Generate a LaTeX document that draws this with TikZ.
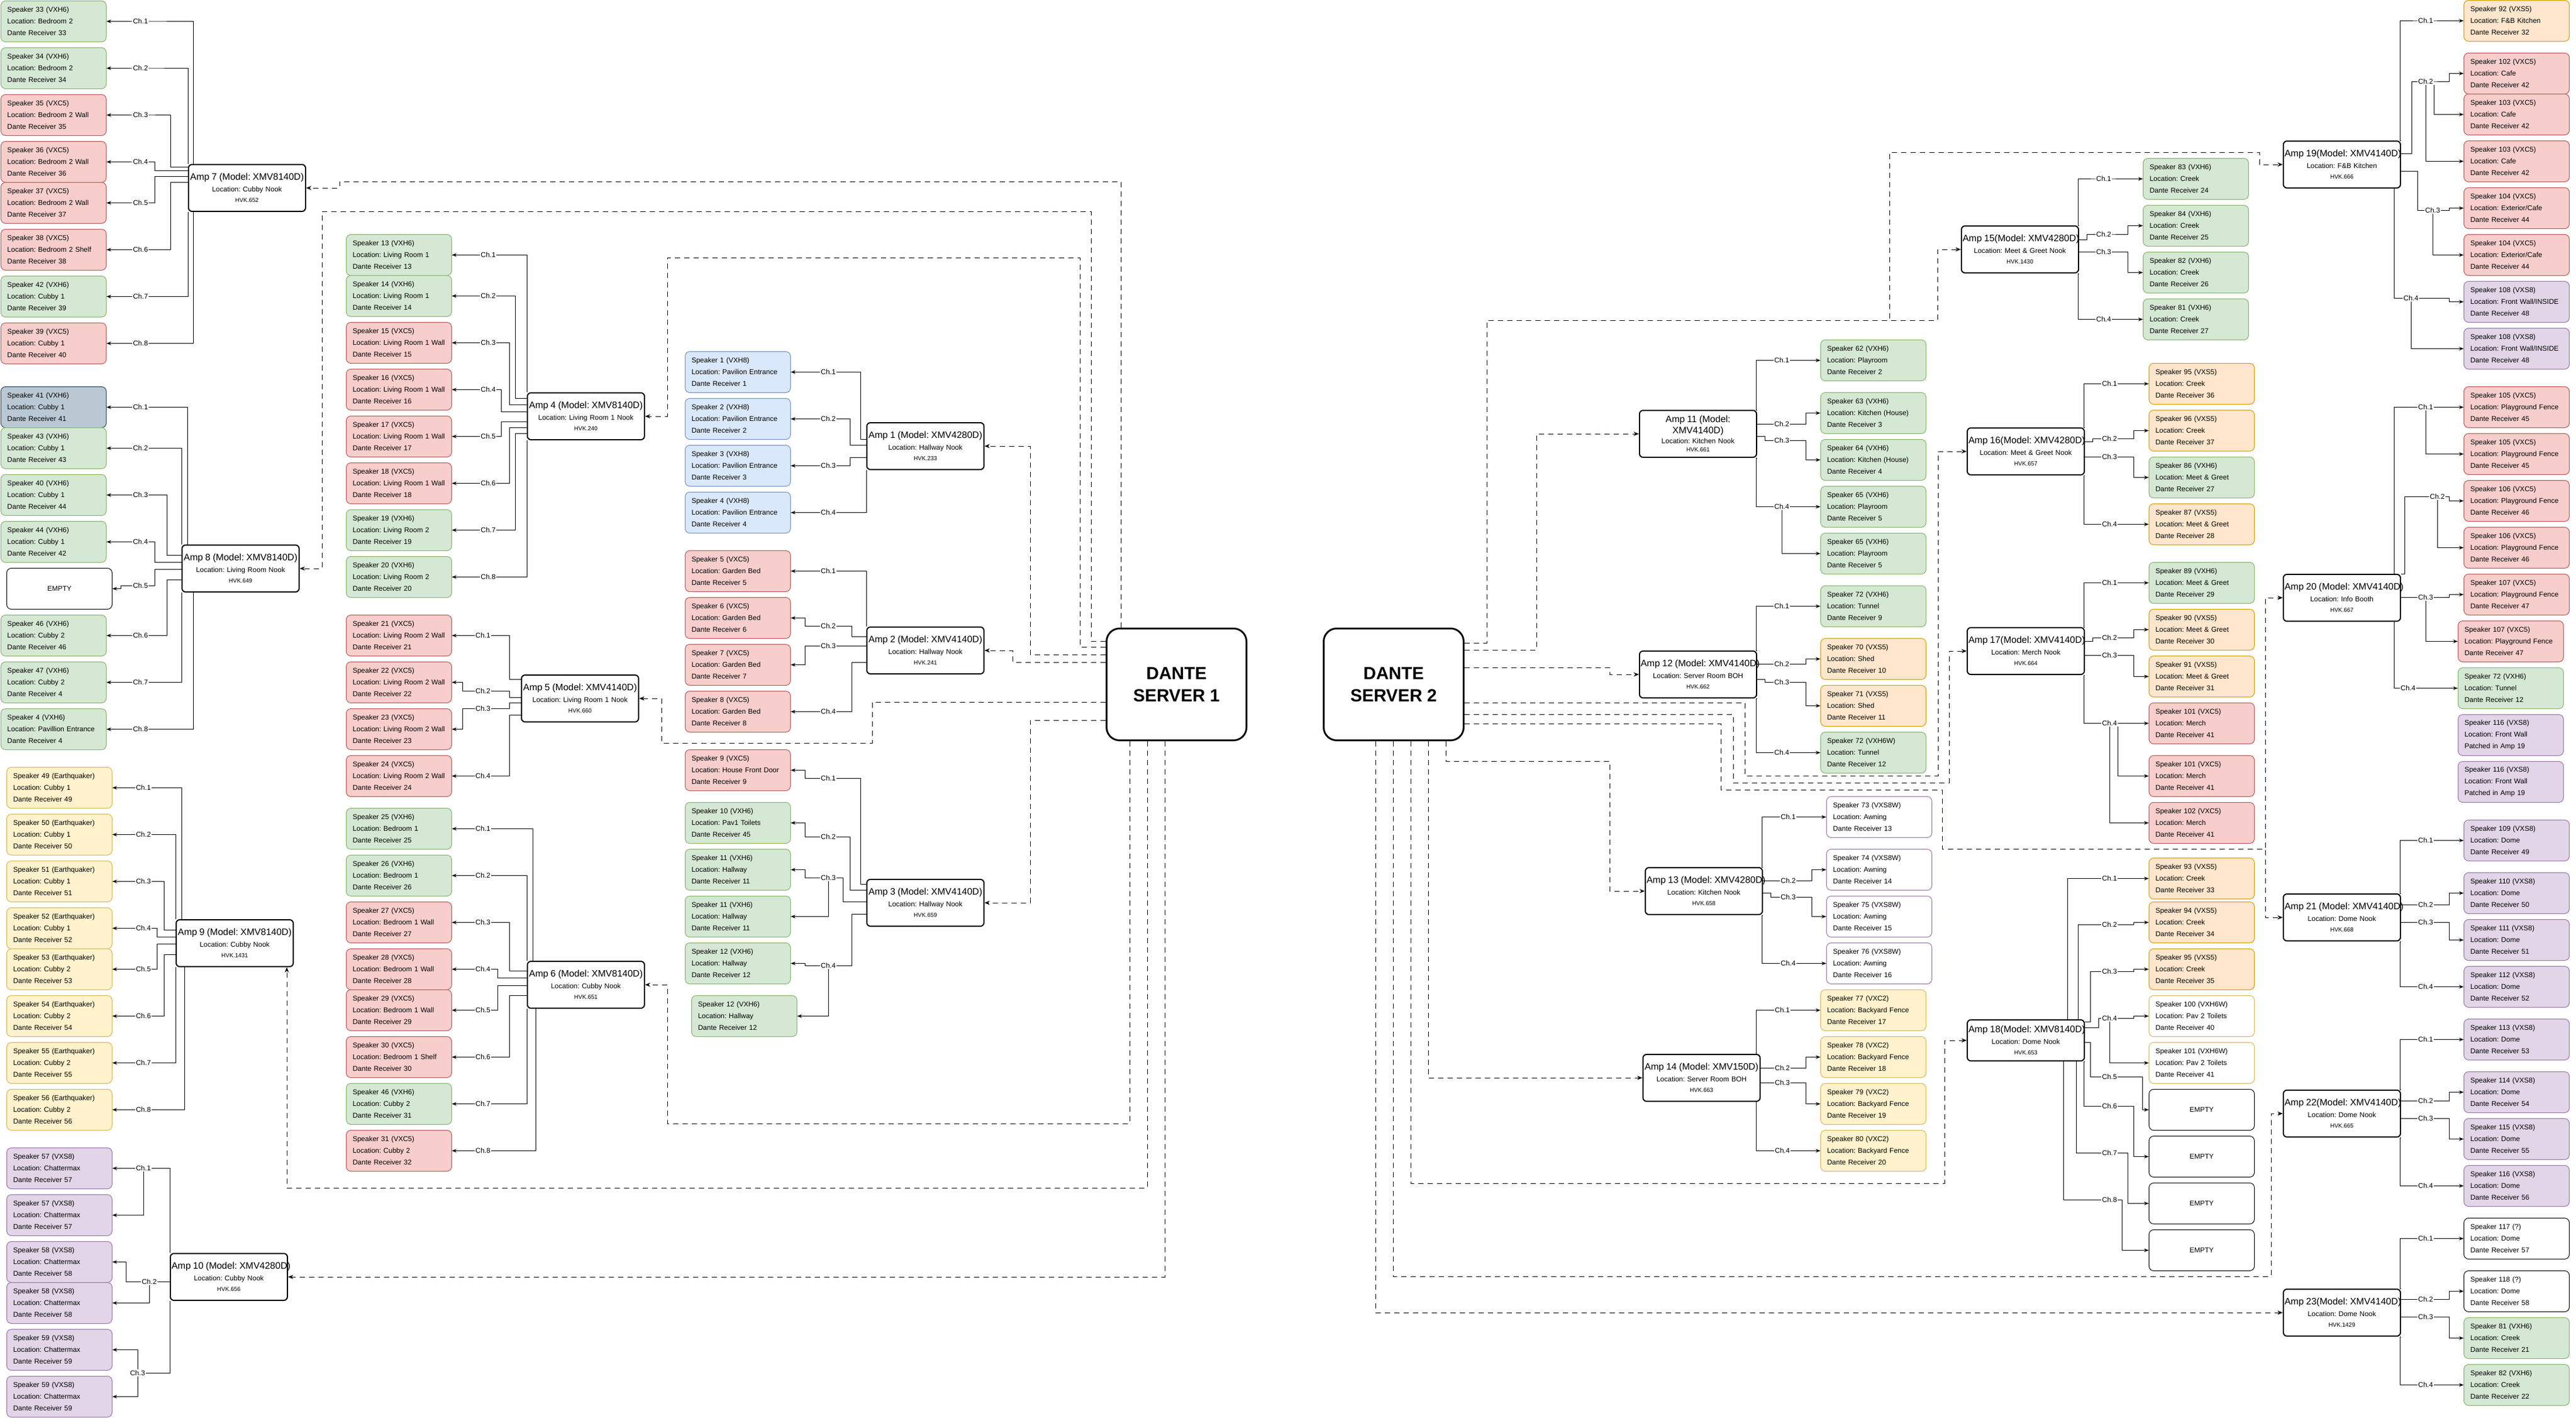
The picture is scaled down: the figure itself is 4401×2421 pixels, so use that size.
\documentclass[tikz,border=0pt]{standalone}
\usepackage{fontspec}
\setmainfont{Liberation Sans}
\frenchspacing
\usetikzlibrary{arrows.meta}
\definecolor{gF}{HTML}{D5E8D4}\definecolor{gD}{HTML}{82B366}
\definecolor{rF}{HTML}{F8CECC}\definecolor{rD}{HTML}{B85450}
\definecolor{bF}{HTML}{DAE8FC}\definecolor{bD}{HTML}{6C8EBF}
\definecolor{yF}{HTML}{FFF2CC}\definecolor{yD}{HTML}{D6B656}
\definecolor{oF}{HTML}{FFE6CC}\definecolor{oD}{HTML}{D79B00}
\definecolor{pF}{HTML}{E1D5E7}\definecolor{pD}{HTML}{9673A6}
\definecolor{sF}{HTML}{BAC8D3}\definecolor{sD}{HTML}{23445D}
\tikzset{
 spkbox/.style={draw, anchor=north west, rounded corners=8pt, line width=1pt, minimum width=180pt, minimum height=70pt, text width=158pt, inner xsep=11pt, inner ysep=2pt, align=left, font=\fontsize{12pt}{20pt}\selectfont},
 cG/.style={fill=gF, draw=gD}, cR/.style={fill=rF, draw=rD}, cB/.style={fill=bF, draw=bD},
 cY/.style={fill=yF, draw=yD}, cO/.style={fill=oF, draw=oD}, cP/.style={fill=pF, draw=pD},
 cS/.style={fill=sF, draw=sD}, cW/.style={fill=white, draw=black},
 cWP/.style={fill=white, draw=pD}, cWY/.style={fill=white, draw=yD},
 ampbox/.style={draw, anchor=north west, rounded corners=6pt, line width=2pt, fill=white, minimum width=200pt, text width=196pt, inner xsep=2pt, inner ysep=2pt, align=center, font=\fontsize{12pt}{20pt}\selectfont},
 srvbox/.style={draw, anchor=north west, rounded corners=22pt, line width=3pt, fill=white, minimum width=239pt, minimum height=191pt, align=center, font=\bfseries\fontsize{30pt}{38pt}\selectfont},
 wire/.style={line width=1pt, -{Stealth[length=8pt,width=6pt]}},
 dline/.style={line width=1pt, dash pattern=on 9pt off 7pt, -{Stealth[length=9pt,width=7pt]}},
 lbl/.style={fill=white, inner sep=1.5pt, font=\fontsize{12pt}{14pt}\selectfont},
}
\newcommand\spk[7]{\node[spkbox,#2] (#1) at (#3,#4) {\mbox{#5}\\\mbox{#6}\\\mbox{#7}};}
\newcommand\emp[3]{\node[spkbox,cW,align=center] (#1) at (#2,#3) {EMPTY};}
\newcommand\amp[7][80]{\node[ampbox,minimum height=#1pt] (#2) at (#3,#4) {{\fontsize{16pt}{20pt}\selectfont\mbox{#5}\par}\mbox{#6}\par{\fontsize{10pt}{18pt}\selectfont #7\par}};}
\newcommand\wire[8]{\draw[wire] #1 -| (#2,#3) -- (#4,#3) node[lbl] (#8) {#7} -- (#5,#3) |- (#6);}
\begin{document}
\begin{tikzpicture}[x=1pt,y=-1pt]
\fill[white] (0,0) rectangle (4401,2421);
\useasboundingbox (0,0) rectangle (4401,2421);
% servers
\node[srvbox] (D1) at (1889,1072) {DANTE\\SERVER 1};
\node[srvbox] (D2) at (2260,1072) {DANTE\\SERVER 2};
% amps
\amp{A7}{321}{280}{Amp 7 (Model: XMV8140D)}{Location: Cubby Nook}{HVK.652}
\amp{A8}{310}{930}{Amp 8 (Model: XMV8140D)}{Location: Living Room Nook}{HVK.649}
\amp{A9}{300}{1570}{Amp 9 (Model: XMV8140D)}{Location: Cubby Nook}{HVK.1431}
\amp{A10}{290}{2140}{Amp 10 (Model: XMV4280D)}{Location: Cubby Nook}{HVK.656}
\amp{A4}{900}{670}{Amp 4 (Model: XMV8140D)}{Location: Living Room 1 Nook}{HVK.240}
\amp{A5}{890}{1152}{Amp 5 (Model: XMV4140D)}{Location: Living Room 1 Nook}{HVK.660}
\amp{A6}{900}{1641}{Amp 6 (Model: XMV8140D)}{Location: Cubby Nook}{HVK.651}
\amp{A1}{1480}{721}{Amp 1 (Model: XMV4280D)}{Location: Hallway Nook}{HVK.233}
\amp{A2}{1480}{1070}{Amp 2 (Model: XMV4140D)}{Location: Hallway Nook}{HVK.241}
\amp{A3}{1480}{1501}{Amp 3 (Model: XMV4140D)}{Location: Hallway Nook}{HVK.659}
\node[ampbox,minimum height=80pt] (A11) at (2800,700) {{\fontsize{16pt}{19pt}\selectfont Amp 11 (Model:\\XMV4140D)\par}{\fontsize{12pt}{17pt}\selectfont Location: Kitchen Nook\par}{\fontsize{10pt}{14pt}\selectfont HVK.661\par}};
\amp{A12}{2800}{1111}{Amp 12 (Model: XMV4140D)}{Location: Server Room BOH}{HVK.662}
\amp{A13}{2810}{1481}{Amp 13 (Model: XMV4280D)}{Location: Kitchen Nook}{HVK.658}
\amp{A14}{2806}{1800}{Amp 14 (Model: XMV150D)}{Location: Server Room BOH}{HVK.663}
\amp{A15}{3350}{385}{Amp 15(Model: XMV4280D)}{Location: Meet \& Greet Nook}{HVK.1430}
\amp{A16}{3360}{730}{Amp 16(Model: XMV4280D)}{Location: Meet \& Greet Nook}{HVK.657}
\amp{A17}{3360}{1071}{Amp 17(Model: XMV4140D)}{Location: Merch Nook}{HVK.664}
\amp[70]{A18}{3360}{1741}{Amp 18(Model: XMV8140D)}{Location: Dome Nook}{HVK.653}
\amp{A19}{3900}{240}{Amp 19(Model: XMV4140D)}{Location: F\&B Kitchen}{HVK.666}
\amp{A20}{3900}{980}{Amp 20 (Model: XMV4140D)}{Location: Info Booth}{HVK.667}
\amp{A21}{3900}{1526}{Amp 21 (Model: XMV4140D)}{Location: Dome Nook}{HVK.668}
\amp{A22}{3900}{1861}{Amp 22(Model: XMV4140D)}{Location: Dome Nook}{HVK.665}
\amp{A23}{3900}{2201}{Amp 23(Model: XMV4140D)}{Location: Dome Nook}{HVK.1429}
% ---------- speakers, left column
\spk{S33}{cG}{1}{1}{Speaker 33 (VXH6)}{Location: Bedroom 2}{Dante Receiver 33}
\spk{S34}{cG}{1}{81}{Speaker 34 (VXH6)}{Location: Bedroom 2}{Dante Receiver 34}
\spk{S35}{cR}{1}{161}{Speaker 35 (VXC5)}{Location: Bedroom 2 Wall}{Dante Receiver 35}
\spk{S36}{cR}{1}{241}{Speaker 36 (VXC5)}{Location: Bedroom 2 Wall}{Dante Receiver 36}
\spk{S37}{cR}{1}{311}{Speaker 37 (VXC5)}{Location: Bedroom 2 Wall}{Dante Receiver 37}
\spk{S38}{cR}{1}{391}{Speaker 38 (VXC5)}{Location: Bedroom 2 Shelf}{Dante Receiver 38}
\spk{S42}{cG}{1}{471}{Speaker 42 (VXH6)}{Location: Cubby 1}{Dante Receiver 39}
\spk{S39}{cR}{1}{551}{Speaker 39 (VXC5)}{Location: Cubby 1}{Dante Receiver 40}
\spk{S41}{cS}{1}{660}{Speaker 41 (VXH6)}{Location: Cubby 1}{Dante Receiver 41}
\spk{S43}{cG}{1}{730}{Speaker 43 (VXH6)}{Location: Cubby 1}{Dante Receiver 43}
\spk{S40}{cG}{1}{810}{Speaker 40 (VXH6)}{Location: Cubby 1}{Dante Receiver 44}
\spk{S44}{cG}{1}{890}{Speaker 44 (VXH6)}{Location: Cubby 1}{Dante Receiver 42}
\emp{E8}{11}{970}
\spk{S46}{cG}{1}{1050}{Speaker 46 (VXH6)}{Location: Cubby 2}{Dante Receiver 46}
\spk{S47}{cG}{1}{1130}{Speaker 47 (VXH6)}{Location: Cubby 2}{Dante Receiver 4}
\spk{S4x}{cG}{1}{1210}{Speaker 4 (VXH6)}{Location: Pavillion Entrance}{Dante Receiver 4}
\spk{S49}{cY}{11}{1310}{Speaker 49 (Earthquaker)}{Location: Cubby 1}{Dante Receiver 49}
\spk{S50}{cY}{11}{1390}{Speaker 50 (Earthquaker)}{Location: Cubby 1}{Dante Receiver 50}
\spk{S51}{cY}{11}{1470}{Speaker 51 (Earthquaker)}{Location: Cubby 1}{Dante Receiver 51}
\spk{S52}{cY}{11}{1550}{Speaker 52 (Earthquaker)}{Location: Cubby 1}{Dante Receiver 52}
\spk{S53}{cY}{11}{1620}{Speaker 53 (Earthquaker)}{Location: Cubby 2}{Dante Receiver 53}
\spk{S54}{cY}{11}{1700}{Speaker 54 (Earthquaker)}{Location: Cubby 2}{Dante Receiver 54}
\spk{S55}{cY}{11}{1780}{Speaker 55 (Earthquaker)}{Location: Cubby 2}{Dante Receiver 55}
\spk{S56}{cY}{11}{1860}{Speaker 56 (Earthquaker)}{Location: Cubby 2}{Dante Receiver 56}
\spk{S57a}{cP}{11}{1960}{Speaker 57 (VXS8)}{Location: Chattermax}{Dante Receiver 57}
\spk{S57b}{cP}{11}{2040}{Speaker 57 (VXS8)}{Location: Chattermax}{Dante Receiver 57}
\spk{S58a}{cP}{11}{2120}{Speaker 58 (VXS8)}{Location: Chattermax}{Dante Receiver 58}
\spk{S58b}{cP}{11}{2190}{Speaker 58 (VXS8)}{Location: Chattermax}{Dante Receiver 58}
\spk{S59a}{cP}{11}{2270}{Speaker 59 (VXS8)}{Location: Chattermax}{Dante Receiver 59}
\spk{S59b}{cP}{11}{2350}{Speaker 59 (VXS8)}{Location: Chattermax}{Dante Receiver 59}
% ---------- second column
\spk{S13}{cG}{591}{400}{Speaker 13 (VXH6)}{Location: Living Room 1}{Dante Receiver 13}
\spk{S14}{cG}{591}{470}{Speaker 14 (VXH6)}{Location: Living Room 1}{Dante Receiver 14}
\spk{S15}{cR}{591}{550}{Speaker 15 (VXC5)}{Location: Living Room 1 Wall}{Dante Receiver 15}
\spk{S16}{cR}{591}{630}{Speaker 16 (VXC5)}{Location: Living Room 1 Wall}{Dante Receiver 16}
\spk{S17}{cR}{591}{710}{Speaker 17 (VXC5)}{Location: Living Room 1 Wall}{Dante Receiver 17}
\spk{S18}{cR}{591}{790}{Speaker 18 (VXC5)}{Location: Living Room 1 Wall}{Dante Receiver 18}
\spk{S19}{cG}{591}{870}{Speaker 19 (VXH6)}{Location: Living Room 2}{Dante Receiver 19}
\spk{S20}{cG}{591}{950}{Speaker 20 (VXH6)}{Location: Living Room 2}{Dante Receiver 20}
\spk{S21}{cR}{591}{1050}{Speaker 21 (VXC5)}{Location: Living Room 2 Wall}{Dante Receiver 21}
\spk{S22}{cR}{591}{1130}{Speaker 22 (VXC5)}{Location: Living Room 2 Wall}{Dante Receiver 22}
\spk{S23}{cR}{591}{1210}{Speaker 23 (VXC5)}{Location: Living Room 2 Wall}{Dante Receiver 23}
\spk{S24}{cR}{591}{1290}{Speaker 24 (VXC5)}{Location: Living Room 2 Wall}{Dante Receiver 24}
\spk{S25}{cG}{591}{1380}{Speaker 25 (VXH6)}{Location: Bedroom 1}{Dante Receiver 25}
\spk{S26}{cG}{591}{1460}{Speaker 26 (VXH6)}{Location: Bedroom 1}{Dante Receiver 26}
\spk{S27}{cR}{591}{1540}{Speaker 27 (VXC5)}{Location: Bedroom 1 Wall}{Dante Receiver 27}
\spk{S28}{cR}{591}{1620}{Speaker 28 (VXC5)}{Location: Bedroom 1 Wall}{Dante Receiver 28}
\spk{S29}{cR}{591}{1690}{Speaker 29 (VXC5)}{Location: Bedroom 1 Wall}{Dante Receiver 29}
\spk{S30}{cR}{591}{1770}{Speaker 30 (VXC5)}{Location: Bedroom 1 Shelf}{Dante Receiver 30}
\spk{S46b}{cG}{591}{1850}{Speaker 46 (VXH6)}{Location: Cubby 2}{Dante Receiver 31}
\spk{S31}{cR}{591}{1930}{Speaker 31 (VXC5)}{Location: Cubby 2}{Dante Receiver 32}
% ---------- third column
\spk{S1}{cB}{1170}{600}{Speaker 1 (VXH8)}{Location: Pavilion Entrance}{Dante Receiver 1}
\spk{S2}{cB}{1170}{680}{Speaker 2 (VXH8)}{Location: Pavilion Entrance}{Dante Receiver 2}
\spk{S3}{cB}{1170}{760}{Speaker 3 (VXH8)}{Location: Pavilion Entrance}{Dante Receiver 3}
\spk{S4b}{cB}{1170}{840}{Speaker 4 (VXH8)}{Location: Pavilion Entrance}{Dante Receiver 4}
\spk{S5}{cR}{1170}{940}{Speaker 5 (VXC5)}{Location: Garden Bed}{Dante Receiver 5}
\spk{S6}{cR}{1170}{1020}{Speaker 6 (VXC5)}{Location: Garden Bed}{Dante Receiver 6}
\spk{S7}{cR}{1170}{1100}{Speaker 7 (VXC5)}{Location: Garden Bed}{Dante Receiver 7}
\spk{S8}{cR}{1170}{1180}{Speaker 8 (VXC5)}{Location: Garden Bed}{Dante Receiver 8}
\spk{S9}{cR}{1170}{1280}{Speaker 9 (VXC5)}{Location: House Front Door}{Dante Receiver 9}
\spk{S10}{cG}{1170}{1370}{Speaker 10 (VXH6)}{Location: Pav1 Toilets}{Dante Receiver 45}
\spk{S11a}{cG}{1170}{1450}{Speaker 11 (VXH6)}{Location: Hallway}{Dante Receiver 11}
\spk{S11b}{cG}{1170}{1530}{Speaker 11 (VXH6)}{Location: Hallway}{Dante Receiver 11}
\spk{S12a}{cG}{1170}{1610}{Speaker 12 (VXH6)}{Location: Hallway}{Dante Receiver 12}
\spk{S12b}{cG}{1181}{1700}{Speaker 12 (VXH6)}{Location: Hallway}{Dante Receiver 12}
% ---------- right, column A
\spk{S62}{cG}{3110}{580}{Speaker 62 (VXH6)}{Location: Playroom}{Dante Receiver 2}
\spk{S63}{cG}{3110}{670}{Speaker 63 (VXH6)}{Location: Kitchen (House)}{Dante Receiver 3}
\spk{S64}{cG}{3110}{750}{Speaker 64 (VXH6)}{Location: Kitchen (House)}{Dante Receiver 4}
\spk{S65a}{cG}{3110}{830}{Speaker 65 (VXH6)}{Location: Playroom}{Dante Receiver 5}
\spk{S65b}{cG}{3110}{910}{Speaker 65 (VXH6)}{Location: Playroom}{Dante Receiver 5}
\spk{S72a}{cG}{3110}{1000}{Speaker 72 (VXH6)}{Location: Tunnel}{Dante Receiver 9}
\spk{S70}{cO}{3110}{1090}{Speaker 70 (VXS5)}{Location: Shed}{Dante Receiver 10}
\spk{S71}{cO}{3110}{1170}{Speaker 71 (VXS5)}{Location: Shed}{Dante Receiver 11}
\spk{S72b}{cG}{3110}{1250}{Speaker 72 (VXH6W)}{Location: Tunnel}{Dante Receiver 12}
\spk{S73}{cWP}{3120}{1360}{Speaker 73 (VXS8W)}{Location: Awning}{Dante Receiver 13}
\spk{S74}{cWP}{3120}{1450}{Speaker 74 (VXS8W)}{Location: Awning}{Dante Receiver 14}
\spk{S75}{cWP}{3120}{1530}{Speaker 75 (VXS8W)}{Location: Awning}{Dante Receiver 15}
\spk{S76}{cWP}{3120}{1610}{Speaker 76 (VXS8W)}{Location: Awning}{Dante Receiver 16}
\spk{S77}{cY}{3110}{1690}{Speaker 77 (VXC2)}{Location: Backyard Fence}{Dante Receiver 17}
\spk{S78}{cY}{3110}{1770}{Speaker 78 (VXC2)}{Location: Backyard Fence}{Dante Receiver 18}
\spk{S79}{cY}{3110}{1850}{Speaker 79 (VXC2)}{Location: Backyard Fence}{Dante Receiver 19}
\spk{S80}{cY}{3110}{1930}{Speaker 80 (VXC2)}{Location: Backyard Fence}{Dante Receiver 20}
% ---------- right, column B
\spk{S83}{cG}{3661}{270}{Speaker 83 (VXH6)}{Location: Creek}{Dante Receiver 24}
\spk{S84}{cG}{3661}{350}{Speaker 84 (VXH6)}{Location: Creek}{Dante Receiver 25}
\spk{S82}{cG}{3661}{430}{Speaker 82 (VXH6)}{Location: Creek}{Dante Receiver 26}
\spk{S81}{cG}{3661}{510}{Speaker 81 (VXH6)}{Location: Creek}{Dante Receiver 27}
\spk{S95a}{cO}{3671}{620}{Speaker 95 (VXS5)}{Location: Creek}{Dante Receiver 36}
\spk{S96}{cO}{3671}{700}{Speaker 96 (VXS5)}{Location: Creek}{Dante Receiver 37}
\spk{S86}{cG}{3671}{780}{Speaker 86 (VXH6)}{Location: Meet \& Greet}{Dante Receiver 27}
\spk{S87}{cO}{3671}{860}{Speaker 87 (VXS5)}{Location: Meet \& Greet}{Dante Receiver 28}
\spk{S89}{cG}{3671}{960}{Speaker 89 (VXH6)}{Location: Meet \& Greet}{Dante Receiver 29}
\spk{S90}{cO}{3671}{1040}{Speaker 90 (VXS5)}{Location: Meet \& Greet}{Dante Receiver 30}
\spk{S91}{cO}{3671}{1120}{Speaker 91 (VXS5)}{Location: Meet \& Greet}{Dante Receiver 31}
\spk{S101a}{cR}{3671}{1200}{Speaker 101 (VXC5)}{Location: Merch}{Dante Receiver 41}
\spk{S101b}{cR}{3671}{1290}{Speaker 101 (VXC5)}{Location: Merch}{Dante Receiver 41}
\spk{S102a}{cR}{3671}{1370}{Speaker 102 (VXC5)}{Location: Merch}{Dante Receiver 41}
\spk{S93}{cO}{3671}{1465}{Speaker 93 (VXS5)}{Location: Creek}{Dante Receiver 33}
\spk{S94}{cO}{3671}{1540}{Speaker 94 (VXS5)}{Location: Creek}{Dante Receiver 34}
\spk{S95b}{cO}{3671}{1620}{Speaker 95 (VXS5)}{Location: Creek}{Dante Receiver 35}
\spk{S100}{cWY}{3671}{1700}{Speaker 100 (VXH6W)}{Location: Pav 2 Toilets}{Dante Receiver 40}
\spk{S101c}{cWY}{3671}{1780}{Speaker 101 (VXH6W)}{Location: Pav 2 Toilets}{Dante Receiver 41}
\emp{E18a}{3671}{1860}
\emp{E18b}{3671}{1940}
\emp{E18c}{3671}{2020}
\emp{E18d}{3671}{2100}
% ---------- right, column C
\spk{S92}{cO}{4209}{0}{Speaker 92 (VXS5)}{Location: F\&B Kitchen}{Dante Receiver 32}
\spk{S102b}{cR}{4209}{90}{Speaker 102 (VXC5)}{Location: Cafe}{Dante Receiver 42}
\spk{S103a}{cR}{4209}{160}{Speaker 103 (VXC5)}{Location: Cafe}{Dante Receiver 42}
\spk{S103b}{cR}{4209}{240}{Speaker 103 (VXC5)}{Location: Cafe}{Dante Receiver 42}
\spk{S104a}{cR}{4209}{320}{Speaker 104 (VXC5)}{Location: Exterior/Cafe}{Dante Receiver 44}
\spk{S104b}{cR}{4209}{400}{Speaker 104 (VXC5)}{Location: Exterior/Cafe}{Dante Receiver 44}
\spk{S108a}{cP}{4209}{480}{Speaker 108 (VXS8)}{Location: Front Wall/INSIDE}{Dante Receiver 48}
\spk{S108b}{cP}{4209}{560}{Speaker 108 (VXS8)}{Location: Front Wall/INSIDE}{Dante Receiver 48}
\spk{S105a}{cR}{4209}{660}{Speaker 105 (VXC5)}{Location: Playground Fence}{Dante Receiver 45}
\spk{S105b}{cR}{4209}{740}{Speaker 105 (VXC5)}{Location: Playground Fence}{Dante Receiver 45}
\spk{S106a}{cR}{4209}{820}{Speaker 106 (VXC5)}{Location: Playground Fence}{Dante Receiver 46}
\spk{S106b}{cR}{4209}{900}{Speaker 106 (VXC5)}{Location: Playground Fence}{Dante Receiver 46}
\spk{S107a}{cR}{4209}{980}{Speaker 107 (VXC5)}{Location: Playground Fence}{Dante Receiver 47}
\spk{S107b}{cR}{4199}{1060}{Speaker 107 (VXC5)}{Location: Playground Fence}{Dante Receiver 47}
\spk{S72c}{cG}{4199}{1140}{Speaker 72 (VXH6)}{Location: Tunnel}{Dante Receiver 12}
\spk{S116a}{cP}{4199}{1220}{Speaker 116 (VXS8)}{Location: Front Wall}{Patched in Amp 19}
\spk{S116b}{cP}{4199}{1300}{Speaker 116 (VXS8)}{Location: Front Wall}{Patched in Amp 19}
\spk{S109}{cP}{4209}{1400}{Speaker 109 (VXS8)}{Location: Dome}{Dante Receiver 49}
\spk{S110}{cP}{4209}{1490}{Speaker 110 (VXS8)}{Location: Dome}{Dante Receiver 50}
\spk{S111}{cP}{4209}{1570}{Speaker 111 (VXS8)}{Location: Dome}{Dante Receiver 51}
\spk{S112}{cP}{4209}{1650}{Speaker 112 (VXS8)}{Location: Dome}{Dante Receiver 52}
\spk{S113}{cP}{4209}{1740}{Speaker 113 (VXS8)}{Location: Dome}{Dante Receiver 53}
\spk{S114}{cP}{4209}{1830}{Speaker 114 (VXS8)}{Location: Dome}{Dante Receiver 54}
\spk{S115}{cP}{4209}{1910}{Speaker 115 (VXS8)}{Location: Dome}{Dante Receiver 55}
\spk{S116c}{cP}{4209}{1990}{Speaker 116 (VXS8)}{Location: Dome}{Dante Receiver 56}
\spk{S117}{cW}{4209}{2080}{Speaker 117 (?)}{Location: Dome}{Dante Receiver 57}
\spk{S118}{cW}{4209}{2170}{Speaker 118 (?)}{Location: Dome}{Dante Receiver 58}
\spk{S81b}{cG}{4209}{2250}{Speaker 81 (VXH6)}{Location: Creek}{Dante Receiver 21}
\spk{S82b}{cG}{4209}{2330}{Speaker 82 (VXH6)}{Location: Creek}{Dante Receiver 22}
% ================= channel wires
% Amp 7
\wire{(A7.north -| 330,0)}{330}{36}{240}{206}{S33.east}{Ch.1}{L7a}
\wire{(A7.north west)}{321}{116}{240}{206}{S34.east}{Ch.2}{L7b}
\wire{(A7.west |- 0,285)}{291}{196}{240}{206}{S35.east}{Ch.3}{L7c}
\wire{(A7.west |- 0,291)}{264}{276}{240}{206}{S36.east}{Ch.4}{L7d}
\wire{(A7.west |- 0,301)}{264}{346}{240}{206}{S37.east}{Ch.5}{L7e}
\wire{(A7.west |- 0,311)}{291}{426}{240}{206}{S38.east}{Ch.6}{L7f}
\wire{(A7.south west)}{321}{506}{240}{206}{S42.east}{Ch.7}{L7g}
\wire{(A7.south -| 330,0)}{330}{586}{240}{206}{S39.east}{Ch.8}{L7h}
% Amp 8
\wire{(A8.north -| 320,0)}{320}{695}{240}{206}{S41.east}{Ch.1}{L8a}
\wire{(A8.north west)}{310}{765}{240}{206}{S43.east}{Ch.2}{L8b}
\wire{(A8.west |- 0,948)}{285}{845}{240}{206}{S40.east}{Ch.3}{L8c}
\wire{(A8.west |- 0,960)}{264}{925}{240}{206}{S44.east}{Ch.4}{L8d}
\wire{(A8.west |- 0,972)}{264}{1000}{240}{206}{E8.east}{Ch.5}{L8e}
\wire{(A8.west |- 0,990)}{285}{1085}{240}{206}{S46.east}{Ch.6}{L8f}
\wire{(A8.south west)}{310}{1165}{240}{206}{S47.east}{Ch.7}{L8g}
\wire{(A8.south -| 330,0)}{330}{1245}{240}{206}{S4x.east}{Ch.8}{L8h}
% Amp 9
\wire{(A9.north -| 310,0)}{310}{1345}{245}{210}{S49.east}{Ch.1}{L9a}
\wire{(A9.north west)}{300}{1425}{245}{210}{S50.east}{Ch.2}{L9b}
\wire{(A9.west |- 0,1588)}{280}{1505}{245}{210}{S51.east}{Ch.3}{L9c}
\wire{(A9.west |- 0,1600)}{268}{1585}{245}{210}{S52.east}{Ch.4}{L9d}
\wire{(A9.west |- 0,1612)}{268}{1655}{245}{210}{S53.east}{Ch.5}{L9e}
\wire{(A9.west |- 0,1630)}{280}{1735}{245}{210}{S54.east}{Ch.6}{L9f}
\wire{(A9.south west)}{300}{1815}{245}{210}{S55.east}{Ch.7}{L9g}
\wire{(A9.south -| 315,0)}{315}{1895}{245}{210}{S56.east}{Ch.8}{L9h}
% Amp 10
\wire{(A10.north west)}{290}{1995}{245}{210}{S57a.east}{Ch.1}{L10a}
\draw[wire] (L10a.south) |- (S57b.east);
\wire{(A10.west |- 0,2189)}{290}{2189}{255}{215}{S58a.east}{Ch.2}{L10b}
\draw[wire] (L10b.south) |- (S58b.east);
\draw[line width=1pt] (A10.south west) |- (235,2345) node[lbl] (L10c) {Ch.3};
\draw[wire] (L10c.north) |- (S59a.east);
\draw[wire] (L10c.south) |- (S59b.east);
% Amp 4
\wire{(A4.north west)}{900}{435}{834}{800}{S13.east}{Ch.1}{L4a}
\wire{(A4.west |- 0,680)}{880}{505}{834}{800}{S14.east}{Ch.2}{L4b}
\wire{(A4.west |- 0,691)}{870}{585}{834}{800}{S15.east}{Ch.3}{L4c}
\wire{(A4.west |- 0,703)}{856}{665}{834}{800}{S16.east}{Ch.4}{L4d}
\wire{(A4.west |- 0,720)}{856}{745}{834}{800}{S17.east}{Ch.5}{L4e}
\wire{(A4.west |- 0,730)}{870}{825}{834}{800}{S18.east}{Ch.6}{L4f}
\wire{(A4.west |- 0,740)}{880}{905}{834}{800}{S19.east}{Ch.7}{L4g}
\wire{(A4.south west)}{900}{985}{834}{800}{S20.east}{Ch.8}{L4h}
% Amp 5
\wire{(A5.west |- 0,1160)}{870}{1085}{825}{790}{S21.east}{Ch.1}{L5a}
\wire{(A5.west |- 0,1191)}{870}{1180}{825}{790}{S22.east}{Ch.2}{L5b}
\wire{(A5.west |- 0,1200)}{870}{1210}{825}{790}{S23.east}{Ch.3}{L5c}
\wire{(A5.west |- 0,1221)}{870}{1325}{825}{790}{S24.east}{Ch.4}{L5d}
% Amp 6
\wire{(A6.north -| 910,0)}{910}{1415}{825}{790}{S25.east}{Ch.1}{L6a}
\wire{(A6.north west)}{900}{1495}{825}{790}{S26.east}{Ch.2}{L6b}
\wire{(A6.west |- 0,1658)}{870}{1575}{825}{790}{S27.east}{Ch.3}{L6c}
\wire{(A6.west |- 0,1670)}{850}{1655}{825}{790}{S28.east}{Ch.4}{L6d}
\wire{(A6.west |- 0,1683)}{850}{1725}{825}{790}{S29.east}{Ch.5}{L6e}
\wire{(A6.west |- 0,1700)}{870}{1805}{825}{790}{S30.east}{Ch.6}{L6f}
\wire{(A6.south west)}{900}{1885}{825}{790}{S46b.east}{Ch.7}{L6g}
\wire{(A6.south -| 915,0)}{915}{1965}{825}{790}{S31.east}{Ch.8}{L6h}
% Amp 1
\wire{(A1.west |- 0,750)}{1470}{635}{1415}{1375}{S1.east}{Ch.1}{L1a}
\wire{(A1.west |- 0,760)}{1452}{715}{1415}{1375}{S2.east}{Ch.2}{L1b}
\wire{(A1.west |- 0,781)}{1452}{795}{1415}{1375}{S3.east}{Ch.3}{L1c}
\wire{(A1.south west)}{1480}{875}{1415}{1375}{S4b.east}{Ch.4}{L1d}
% Amp 2
\wire{(A2.north west)}{1480}{975}{1415}{1375}{S5.east}{Ch.1}{L2a}
\wire{(A2.west |- 0,1087)}{1455}{1069}{1415}{1375}{S6.east}{Ch.2}{L2b}
\wire{(A2.west |- 0,1103)}{1480}{1103}{1415}{1375}{S7.east}{Ch.3}{L2c}
\wire{(A2.west |- 0,1131)}{1455}{1215}{1415}{1375}{S8.east}{Ch.4}{L2d}
% Amp 3
\wire{(A3.west |- 0,1510)}{1470}{1329}{1415}{1375}{S9.east}{Ch.1}{L3a}
\wire{(A3.west |- 0,1520)}{1452}{1429}{1415}{1375}{S10.east}{Ch.2}{L3b}
\wire{(A3.west |- 0,1540)}{1440}{1499}{1415}{1375}{S11a.east}{Ch.3}{L3c}
\draw[wire] (L3c.south) |- (S11b.east);
\wire{(A3.west |- 0,1561)}{1455}{1649}{1415}{1375}{S12a.east}{Ch.4}{L3d}
\draw[wire] (L3d.south) |- (S12b.east);
% Amp 11
\wire{(A11.north east)}{3000}{615}{3044}{3085}{S62.west}{Ch.1}{L11a}
\wire{(A11.east |- 0,724)}{3000}{724}{3044}{3085}{S63.west}{Ch.2}{L11b}
\wire{(A11.east |- 0,745)}{3015}{752}{3044}{3085}{S64.west}{Ch.3}{L11c}
\wire{(A11.south east)}{3000}{865}{3044}{3085}{S65a.west}{Ch.4}{L11d}
\draw[wire] (L11d.south) |- (S65b.west);
% Amp 12
\wire{(A12.north east)}{3000}{1035}{3044}{3085}{S72a.west}{Ch.1}{L12a}
\wire{(A12.east |- 0,1134)}{3000}{1134}{3044}{3085}{S70.west}{Ch.2}{L12b}
\wire{(A12.east |- 0,1160)}{3015}{1165}{3044}{3085}{S71.west}{Ch.3}{L12c}
\wire{(A12.south east)}{3000}{1285}{3044}{3085}{S72b.west}{Ch.4}{L12d}
% Amp 13
\wire{(A13.north east)}{3010}{1395}{3055}{3095}{S73.west}{Ch.1}{L13a}
\wire{(A13.east |- 0,1504)}{3010}{1504}{3055}{3095}{S74.west}{Ch.2}{L13b}
\wire{(A13.east |- 0,1525)}{3025}{1532}{3055}{3095}{S75.west}{Ch.3}{L13c}
\wire{(A13.south east)}{3010}{1645}{3055}{3095}{S76.west}{Ch.4}{L13d}
% Amp 14
\wire{(A14.north -| 3000,0)}{3000}{1725}{3045}{3085}{S77.west}{Ch.1}{L14a}
\wire{(A14.east |- 0,1824)}{3006}{1824}{3045}{3085}{S78.west}{Ch.2}{L14b}
\wire{(A14.east |- 0,1849)}{3006}{1849}{3045}{3085}{S79.west}{Ch.3}{L14c}
\wire{(A14.south -| 3000,0)}{3000}{1965}{3045}{3085}{S80.west}{Ch.4}{L14d}
% Amp 15
\wire{(A15.north east)}{3550}{305}{3594}{3635}{S83.west}{Ch.1}{L15a}
\wire{(A15.east |- 0,409)}{3565}{400}{3594}{3635}{S84.west}{Ch.2}{L15b}
\wire{(A15.east |- 0,430)}{3550}{430}{3594}{3635}{S82.west}{Ch.3}{L15c}
\wire{(A15.south east)}{3550}{545}{3594}{3635}{S81.west}{Ch.4}{L15d}
% Amp 16
\wire{(A16.north east)}{3560}{655}{3604}{3645}{S95a.west}{Ch.1}{L16a}
\wire{(A16.east |- 0,754)}{3575}{749}{3604}{3645}{S96.west}{Ch.2}{L16b}
\wire{(A16.east |- 0,780)}{3560}{780}{3604}{3645}{S86.west}{Ch.3}{L16c}
\wire{(A16.south east)}{3560}{895}{3604}{3645}{S87.west}{Ch.4}{L16d}
% Amp 17
\wire{(A17.north east)}{3560}{995}{3604}{3645}{S89.west}{Ch.1}{L17a}
\wire{(A17.east |- 0,1095)}{3575}{1089}{3604}{3645}{S90.west}{Ch.2}{L17b}
\wire{(A17.east |- 0,1119)}{3560}{1119}{3604}{3645}{S91.west}{Ch.3}{L17c}
\wire{(A17.south east)}{3560}{1235}{3604}{3645}{S101a.west}{Ch.4}{L17d}
\draw[wire] (L17d.south east) |- (S101b.west);
\draw[wire] (L17d.south) |- (S102a.west);
% Amp 18
\wire{(A18.north -| 3532,0)}{3532}{1500}{3604}{3645}{S93.west}{Ch.1}{L18a}
\wire{(A18.north -| 3550,0)}{3550}{1579}{3604}{3645}{S94.west}{Ch.2}{L18b}
\wire{(A18.east |- 0,1745)}{3571}{1659}{3604}{3645}{S95b.west}{Ch.3}{L18c}
\wire{(A18.east |- 0,1755)}{3585}{1739}{3604}{3645}{S100.west}{Ch.4}{L18d}
\draw[wire] (L18d.south) |- (S101c.west);
\wire{(A18.east |- 0,1780)}{3571}{1839}{3604}{3660}{E18a.west}{Ch.5}{L18e}
\wire{(A18.south east)}{3560}{1889}{3604}{3645}{E18b.west}{Ch.6}{L18f}
\wire{(A18.south -| 3547,0)}{3547}{1969}{3604}{3635}{E18c.west}{Ch.7}{L18g}
\wire{(A18.south -| 3525,0)}{3525}{2049}{3604}{3625}{E18d.west}{Ch.8}{L18h}
% Amp 19
\wire{(A19.north east)}{4100}{35}{4144}{4184}{S92.west}{Ch.1}{L19a}
\wire{(A19.east |- 0,262)}{4120}{139}{4144}{4184}{S102b.west}{Ch.2}{L19b}
\draw[wire] (L19b.south east) |- (S103a.west);
\draw[wire] (L19b.south) |- (S103b.west);
\wire{(A19.east |- 0,292)}{4130}{359}{4156}{4184}{S104a.west}{Ch.3}{L19c}
\draw[wire] (L19c.south) |- (S104b.west);
\wire{(A19.south -| 4090,0)}{4090}{509}{4119}{4184}{S108a.west}{Ch.4}{L19d}
\draw[wire] (L19d.south) |- (S108b.west);
% Amp 20
\wire{(A20.north -| 4090,0)}{4090}{695}{4144}{4184}{S105a.west}{Ch.1}{L20a}
\draw[wire] (L20a.south) |- (S105b.west);
\wire{(A20.north east)}{4108}{848}{4164}{4184}{S106a.west}{Ch.2}{L20b}
\draw[wire] (L20b.south) |- (S106b.west);
\wire{(A20.east |- 0,1020)}{4100}{1020}{4144}{4184}{S107a.west}{Ch.3}{L20c}
\draw[wire] (L20c.south) |- (S107b.west);
\wire{(A20.south -| 4090,0)}{4090}{1175}{4114}{4170}{S72c.west}{Ch.4}{L20d}
% Amp 21
\wire{(A21.north east)}{4100}{1435}{4144}{4184}{S109.west}{Ch.1}{L21a}
\wire{(A21.east |- 0,1550)}{4100}{1545}{4144}{4184}{S110.west}{Ch.2}{L21b}
\wire{(A21.east |- 0,1570)}{4100}{1575}{4144}{4184}{S111.west}{Ch.3}{L21c}
\wire{(A21.south east)}{4100}{1685}{4144}{4184}{S112.west}{Ch.4}{L21d}
% Amp 22
\wire{(A22.north east)}{4100}{1775}{4144}{4184}{S113.west}{Ch.1}{L22a}
\wire{(A22.east |- 0,1884)}{4100}{1880}{4144}{4184}{S114.west}{Ch.2}{L22b}
\wire{(A22.east |- 0,1905)}{4100}{1910}{4144}{4184}{S115.west}{Ch.3}{L22c}
\wire{(A22.south east)}{4100}{2025}{4144}{4184}{S116c.west}{Ch.4}{L22d}
% Amp 23
\wire{(A23.north east)}{4100}{2115}{4144}{4184}{S117.west}{Ch.1}{L23a}
\wire{(A23.east |- 0,2223)}{4100}{2219}{4144}{4184}{S118.west}{Ch.2}{L23b}
\wire{(A23.east |- 0,2244)}{4100}{2249}{4144}{4184}{S81b.west}{Ch.3}{L23c}
\wire{(A23.south east)}{4100}{2365}{4144}{4184}{S82b.west}{Ch.4}{L23d}
% ================= Dante network (dashed)
\draw[dline] (D1.north -| 1915,0) |- (580,310) |- (A7.east);
\draw[dline] (D1.west |- 0,1095) -| (1864,361) -- (550,361) |- (A8.east);
\draw[dline] (D1.west |- 0,1105) -| (1845,440) -- (1140,440) |- (A4.east);
\draw[dline] (D1.west |- 0,1118) -| (A1.east -| 1760,0) -- (A1.east);
\draw[dline] (D1.west |- 0,1131) -| (A2.east -| 1730,0) -- (A2.east);
\draw[dline] (D1.west |- 0,1199) -| (1490,1269) -| (A5.east -| 1130,0) -- (A5.east);
\draw[dline] (D1.west |- 0,1230) -| (A3.east -| 1760,0) -- (A3.east);
\draw[dline] (D1.south -| 1930,0) |- (1140,1919) |- (A6.east);
\draw[dline] (D1.south -| 1960,0) |- (490,2029) -- (A9.south -| 490,0);
\draw[dline] (D1.south -| 1990,0) |- (A10.east);
\draw[dline] (D2.east |- 0,1098) -| (2540,547) -- (3228,547) |- (3860,260) |- (A19.west);
\draw[dline] (D2.east |- 0,1098) -| (2540,547) -- (3310,547) |- (A15.west);
\draw[dline] (D2.east |- 0,1110) -| (A11.west -| 2625,0) -- (A11.west);
\draw[dline] (D2.east |- 0,1140) -| (A12.west -| 2750,0) -- (A12.west);
\draw[dline] (D2.east |- 0,1200) -| (2981,1325) -| (A16.west -| 3311,0) -- (A16.west);
\draw[dline] (D2.east |- 0,1220) -| (2961,1337) -| (A17.west -| 3330,0) -- (A17.west);
\draw[dline] (D2.east |- 0,1236) -| (2940,1349) -| (3318,1450) -| (A20.west -| 3870,0) -- (A20.west);
\draw[dline] (D2.east |- 0,1236) -| (2940,1349) -| (3318,1450) -| (A21.west -| 3870,0) -- (A21.west);
\draw[dline] (D2.south -| 2470,0) |- (2750,1300) |- (A13.west);
\draw[dline] (D2.south -| 2440,0) |- (A14.west);
\draw[dline] (D2.south -| 2410,0) |- (3322,2021) |- (A18.west);
\draw[dline] (D2.south -| 2380,0) |- (3880,2180) |- (A22.west);
\draw[dline] (D2.south -| 2350,0) |- (A23.west);
\end{tikzpicture}
\end{document}
